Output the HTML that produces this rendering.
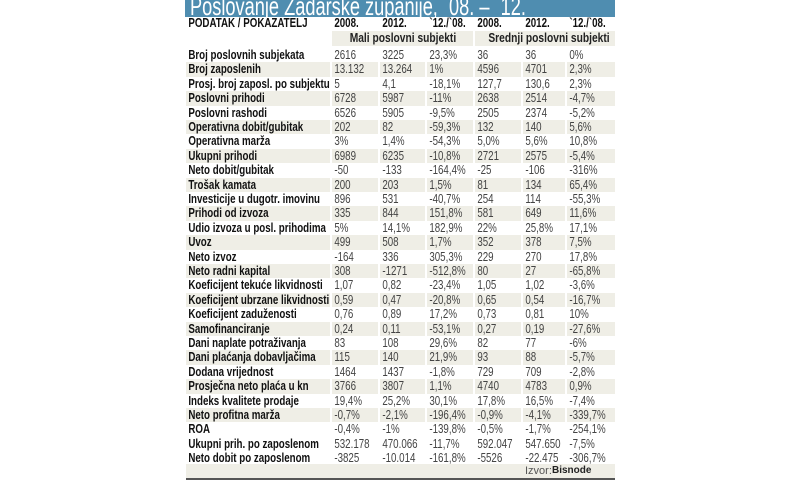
<!DOCTYPE html>
<html><head><meta charset="utf-8"><style>
body{margin:0;width:800px;height:480px;background:#fff;position:relative;overflow:hidden;font-family:"Liberation Sans",sans-serif}
#title{position:absolute;left:185px;top:0;width:430px;height:17px;background:#4f8db0;overflow:hidden}
#title div{position:absolute;left:5px;top:-7px;font-size:26px;color:#fff;white-space:nowrap;transform:scaleX(.7);transform-origin:left top;line-height:26px}
.r{position:absolute;left:186px;width:429px;height:14.4px}
.c{position:absolute;top:0;height:100%;font-size:12.5px;line-height:14.4px;white-space:nowrap;color:#444}
.c span{display:inline-block;transform:scaleX(.78);transform-origin:left center;padding-left:3px}
.s .c{background:#efeee6}
.c0{left:0;width:144px;font-weight:bold;color:#111}
.c1{left:146px;width:46px}.c2{left:194px;width:45px}.c3{left:241px;width:46px}
.c4{left:289px;width:46px}.c5{left:337px;width:42px}.c6{left:381px;width:48px}
.h .c{font-weight:bold;color:#111}
#foot{position:absolute;left:186px;top:464px;width:429px;height:14px;background:#efeee6;border-bottom:2px solid #555}
#foot span{position:absolute;left:339px;top:1px;font-size:11px;color:#555}
#foot b{position:absolute;left:366px;top:1px;font-size:10px;color:#222}
.sub{position:absolute;top:31px;height:15px;background:#efeee6;font-weight:bold;font-size:12.5px;line-height:15px;color:#222;text-align:center;white-space:nowrap}
.sub span{display:inline-block;transform:scaleX(.82);white-space:nowrap}
</style></head><body>
<div id="title"><div>Poslovanje Zadarske županije, `08. – `12.</div></div>
<div class="r h" style="top:16px;height:15px"><div class="c c0"><span>PODATAK / POKAZATELJ</span></div><div class="c c1"><span>2008.</span></div><div class="c c2"><span>2012.</span></div><div class="c c3"><span>`12./`08.</span></div><div class="c c4"><span>2008.</span></div><div class="c c5"><span>2012.</span></div><div class="c c6"><span>`12./`08.</span></div></div>
<div class="sub" style="left:332px;width:141px"><span>Mali poslovni subjekti</span></div>
<div class="sub" style="left:475px;width:140px"><span>Srednji poslovni subjekti</span></div>
<div id="rows"></div>
<div id="foot"><span>Izvor:</span><b>Bisnode</b></div>
<script>
var d=[
["Broj poslovnih subjekata","2616","3225","23,3%","36","36","0%"],
["Broj zaposlenih","13.132","13.264","1%","4596","4701","2,3%"],
["Prosj. broj zaposl. po subjektu","5","4,1","-18,1%","127,7","130,6","2,3%"],
["Poslovni prihodi","6728","5987","-11%","2638","2514","-4,7%"],
["Poslovni rashodi","6526","5905","-9,5%","2505","2374","-5,2%"],
["Operativna dobit/gubitak","202","82","-59,3%","132","140","5,6%"],
["Operativna marža","3%","1,4%","-54,3%","5,0%","5,6%","10,8%"],
["Ukupni prihodi","6989","6235","-10,8%","2721","2575","-5,4%"],
["Neto dobit/gubitak","-50","-133","-164,4%","-25","-106","-316%"],
["Trošak kamata","200","203","1,5%","81","134","65,4%"],
["Investicije u dugotr. imovinu","896","531","-40,7%","254","114","-55,3%"],
["Prihodi od izvoza","335","844","151,8%","581","649","11,6%"],
["Udio izvoza u posl. prihodima","5%","14,1%","182,9%","22%","25,8%","17,1%"],
["Uvoz","499","508","1,7%","352","378","7,5%"],
["Neto izvoz","-164","336","305,3%","229","270","17,8%"],
["Neto radni kapital","308","-1271","-512,8%","80","27","-65,8%"],
["Koeficijent tekuće likvidnosti","1,07","0,82","-23,4%","1,05","1,02","-3,6%"],
["Koeficijent ubrzane likvidnosti","0,59","0,47","-20,8%","0,65","0,54","-16,7%"],
["Koeficijent zaduženosti","0,76","0,89","17,2%","0,73","0,81","10%"],
["Samofinanciranje","0,24","0,11","-53,1%","0,27","0,19","-27,6%"],
["Dani naplate potraživanja","83","108","29,6%","82","77","-6%"],
["Dani plaćanja dobavljačima","115","140","21,9%","93","88","-5,7%"],
["Dodana vrijednost","1464","1437","-1,8%","729","709","-2,8%"],
["Prosječna neto plaća u kn","3766","3807","1,1%","4740","4783","0,9%"],
["Indeks kvalitete prodaje","19,4%","25,2%","30,1%","17,8%","16,5%","-7,4%"],
["Neto profitna marža","-0,7%","-2,1%","-196,4%","-0,9%","-4,1%","-339,7%"],
["ROA","-0,4%","-1%","-139,8%","-0,5%","-1,7%","-254,1%"],
["Ukupni prih. po zaposlenom","532.178","470.066","-11,7%","592.047","547.650","-7,5%"],
["Neto dobit po zaposlenom","-3825","-10.014","-161,8%","-5526","-22.475","-306,7%"]];
var h="";
d.forEach(function(r,i){
 var top=(48+i*14.4).toFixed(1);
 var s=(i%2==1&&i<26)?" s":"";
 h+='<div class="r'+s+'" style="top:'+top+'px">';
 r.forEach(function(v,j){h+='<div class="c c'+j+'"><span>'+v+'</span></div>';});
 h+='</div>';
});
document.getElementById("rows").innerHTML=h;
</script>
</body></html>
